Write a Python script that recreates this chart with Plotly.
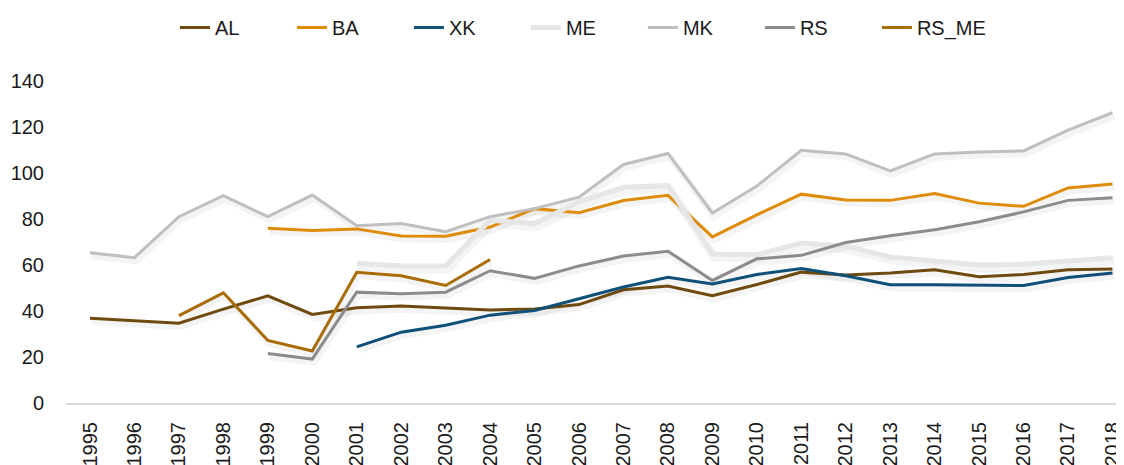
import plotly.graph_objects as go

years = list(range(1995, 2019))
tick_labels = [str(y) for y in years]

AL = [36.8, 35.8, 34.7, 40.8, 46.6, 38.5, 41.4, 42.2, 41.4, 40.4, 40.9, 42.8,
      49.2, 50.9, 46.6, 51.5, 56.9, 55.6, 56.5, 57.9, 54.9, 55.9, 57.9, 58.3]
BA = [None, None, None, None, 76.0, 75.0, 75.7, 72.6, 72.5, 76.5, 84.5, 82.7,
      88.0, 90.3, 72.2, 81.8, 90.8, 88.3, 88.1, 91.1, 86.9, 85.5, 93.5, 95.2]
XK = [None, None, None, None, None, None, 24.4, 30.8, 33.8, 38.2, 40.2, 45.4,
      50.4, 54.7, 51.7, 55.9, 58.5, 55.3, 51.4, 51.4, 51.1, 51.1, 54.6, 56.5]
ME = [None, None, None, None, None, None, 60.8, 59.6, 59.6, 79.5, 78.0, 87.5,
      93.8, 94.5, 64.8, 64.5, 69.6, 68.3, 63.5, 61.7, 60.0, 60.3, 61.7, 63.2]
MK = [65.3, 63.2, 81.0, 90.2, 81.0, 90.4, 77.1, 78.0, 74.5, 81.0, 84.5, 89.5,
      103.7, 108.5, 82.6, 94.3, 109.9, 108.3, 100.9, 108.3, 109.1, 109.6, 118.6, 126.2]
RS = [None, None, None, None, 21.5, 19.1, 48.2, 47.5, 48.2, 57.5, 54.2, 59.6,
      63.9, 66.0, 53.3, 62.7, 64.2, 69.8, 72.7, 75.3, 78.8, 83.1, 88.1, 89.2]
RS_ME = [None, None, 38.0, 47.9, 27.2, 22.6, 56.8, 55.3, 51.1, 62.4, None, None,
         None, None, None, None, None, None, None, None, None, None, None, None]

series = [
    ("AL", AL, "#6f4a0e", 3),
    ("BA", BA, "#de8c0a", 3),
    ("XK", XK, "#0f5078", 3),
    ("ME", ME, "#e6e6e6", 5),
    ("MK", MK, "#bfbfbf", 3),
    ("RS", RS, "#8c8c8c", 3),
    ("RS_ME", RS_ME, "#a96c06", 3),
]

fig = go.Figure()

# soft drop shadows (derived from the data arrays)
for name, vals, color, w in series:
    shadow_y = [None if v is None else v - 1.4 for v in vals]
    shadow_x = [y + 0.04 for y in years]
    fig.add_trace(go.Scatter(
        x=shadow_x, y=shadow_y, mode="lines",
        line=dict(color="rgba(0,0,0,0.045)", width=w + 4),
        showlegend=False, hoverinfo="skip"))

for name, vals, color, w in series:
    fig.add_trace(go.Scatter(
        x=years, y=vals, mode="lines", name=name,
        line=dict(color=color, width=w)))

# page body has an 8px default margin; figure sized so it fills the window
fig.update_layout(
    width=1116, height=457,
    margin=dict(l=58, r=0, t=67, b=62),
    paper_bgcolor="white", plot_bgcolor="white",
    font=dict(family="Liberation Sans, Arial, sans-serif", size=18, color="#1a1a1a"),
    showlegend=True,
    legend=dict(orientation="h", x=0.49, xanchor="center", y=1.167, yanchor="middle",
                font=dict(size=20, color="#1a1a1a"), itemwidth=30,
                entrywidth=72, entrywidthmode="pixels",
                bgcolor="rgba(0,0,0,0)"),
)

fig.update_xaxes(
    range=[1994.46, 2018.26], automargin=False,
    tickmode="array", tickvals=years, ticktext=tick_labels,
    tickangle=-90, tickfont=dict(size=20),
    showgrid=False, zeroline=False,
    showline=True, linecolor="#d9d9d9", linewidth=2,
    ticks="", ticklabelstandoff=9, ticklabeloverflow="allow",
)
fig.update_yaxes(
    range=[0, 140], tickvals=[0, 20, 40, 60, 80, 100, 120, 140], automargin=False,
    tickfont=dict(size=20),
    showgrid=False, zeroline=False, showline=False,
    ticks="", ticklabelstandoff=21,
)

fig.write_html("out.html")
